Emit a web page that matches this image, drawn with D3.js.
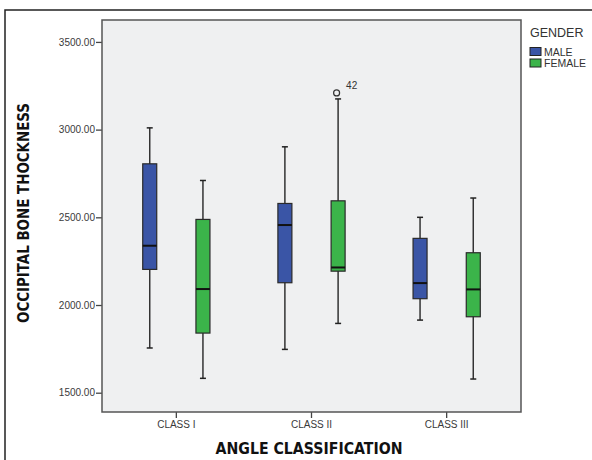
<!DOCTYPE html>
<html>
<head>
<meta charset="utf-8">
<script src="https://cdn.jsdelivr.net/npm/d3@7"></script>
<style>
  body { margin: 0; background: #fff; }
  svg { display: block; font-family: "Liberation Sans", Arial, sans-serif; }
  .axis-title { font-family: "DejaVu Sans Condensed", "DejaVu Sans", sans-serif; font-weight: bold; font-stretch: condensed; fill: #111; }
</style>
</head>
<body>
<div id="chart"></div>
<script>
// data
const classes = ["CLASS I", "CLASS II", "CLASS III"];
const genders = ["MALE", "FEMALE"];
const genderColors = ["#3a55a6", "#3bb44a"];
// [min, q1, median, q3, max] per class
const maleStats = [
    [1755, 2203, 2338, 2805, 3010],
    [1747, 2127, 2456, 2579, 2902],
    [1914, 2036, 2125, 2380, 2500]
];
const femaleStats = [
    [1582, 1840, 2091, 2488, 2710],
    [1895, 2193, 2214, 2594, 3175],
    [1578, 1933, 2089, 2298, 2610]
];
// outliers: [class, gender, value, case id]
const outliers = [["CLASS II", "FEMALE", 3209, "42"]];
const yTicks = [1500, 2000, 2500, 3000, 3500];

const width = 592, height = 460;
const plot = {left: 102, right: 521, top: 20, bottom: 412};

const svg = d3.select("#chart").append("svg")
    .attr("width", width)
    .attr("height", height);

// outer frame
svg.append("rect")
    .attr("x", 5).attr("y", 10)
    .attr("width", 620).attr("height", 520)
    .attr("fill", "none")
    .attr("stroke", "#222")
    .attr("stroke-width", 1.5);

// scales
const y = d3.scaleLinear()
    .domain([1390, 3625])
    .range([plot.bottom, plot.top]);

const x = d3.scaleBand()
    .domain(classes)
    .range([plot.left, plot.right])
    .paddingInner(0)
    .paddingOuter(0.05);

const xSub = d3.scalePoint()
    .domain(genders)
    .range([0, x.bandwidth()])
    .padding(0.77);

const color = d3.scaleOrdinal().domain(genders).range(genderColors);

// plot background
svg.append("rect")
    .attr("x", plot.left).attr("y", plot.top)
    .attr("width", plot.right - plot.left)
    .attr("height", plot.bottom - plot.top)
    .attr("fill", "#eff0f1");

// axes
const yAxis = svg.append("g")
    .attr("transform", `translate(${plot.left},0)`)
    .call(d3.axisLeft(y).tickValues(yTicks).tickFormat(d3.format(".2f")).tickSize(6).tickPadding(1));
yAxis.select(".domain").remove();
yAxis.selectAll("line").attr("stroke", "#444").attr("stroke-width", 1.3);
yAxis.selectAll("text").attr("font-size", 10).attr("fill", "#3a3a3a").attr("font-family", "Liberation Sans, Arial, sans-serif");

const xAxis = svg.append("g")
    .attr("transform", `translate(0,${plot.bottom})`)
    .call(d3.axisBottom(x).tickSize(6).tickPadding(3));
xAxis.select(".domain").remove();
xAxis.selectAll("line").attr("stroke", "#444").attr("stroke-width", 1.3);
xAxis.selectAll("text").attr("font-size", 10).attr("fill", "#3a3a3a").attr("font-family", "Liberation Sans, Arial, sans-serif");

// plot frame
svg.append("rect")
    .attr("x", plot.left).attr("y", plot.top)
    .attr("width", plot.right - plot.left)
    .attr("height", plot.bottom - plot.top)
    .attr("fill", "none")
    .attr("stroke", "#555")
    .attr("stroke-width", 1.5);

// box data
const boxes = [];
classes.forEach((c, i) => {
    [maleStats, femaleStats].forEach((stats, g) => {
        const s = stats[i];
        boxes.push({cls: c, gender: genders[g], min: s[0], q1: s[1], med: s[2], q3: s[3], max: s[4]});
    });
});

const boxW = 14, capW = 6;
const cx = d => x(d.cls) + xSub(d.gender);

const g = svg.append("g").selectAll("g")
    .data(boxes)
    .enter()
    .append("g");

// whiskers
g.append("line")
    .attr("x1", cx).attr("x2", cx)
    .attr("y1", d => y(d.max)).attr("y2", d => y(d.min))
    .attr("stroke", "#333").attr("stroke-width", 1.5);

g.selectAll(".cap")
    .data(d => [d.min, d.max].map(v => ({v, cx: cx(d)})))
    .enter()
    .append("line")
    .attr("class", "cap")
    .attr("x1", d => d.cx - capW / 2).attr("x2", d => d.cx + capW / 2)
    .attr("y1", d => y(d.v)).attr("y2", d => y(d.v))
    .attr("stroke", "#222").attr("stroke-width", 1.5);

// boxes
g.append("rect")
    .attr("x", d => cx(d) - boxW / 2)
    .attr("y", d => y(d.q3))
    .attr("width", boxW)
    .attr("height", d => y(d.q1) - y(d.q3))
    .attr("fill", d => color(d.gender))
    .attr("stroke", "#2a2a2a")
    .attr("stroke-width", 1.2);

// medians
g.append("line")
    .attr("x1", d => cx(d) - boxW / 2).attr("x2", d => cx(d) + boxW / 2)
    .attr("y1", d => y(d.med)).attr("y2", d => y(d.med))
    .attr("stroke", "#111").attr("stroke-width", 2);

// outliers
const out = svg.append("g").selectAll("g")
    .data(outliers)
    .enter()
    .append("g");

out.append("circle")
    .attr("cx", d => x(d[0]) + xSub(d[1]) - 1.5)
    .attr("cy", d => y(d[2]))
    .attr("r", 3)
    .attr("fill", "none")
    .attr("stroke", "#333")
    .attr("stroke-width", 1.2);

out.append("text")
    .attr("x", d => x(d[0]) + xSub(d[1]) + 8)
    .attr("y", d => y(d[2]) - 4)
    .attr("font-size", 10)
    .attr("fill", "#333")
    .text(d => d[3]);

// axis titles
svg.append("text")
    .attr("class", "axis-title")
    .attr("x", 309)
    .attr("y", 454)
    .attr("text-anchor", "middle")
    .attr("font-size", 15.5)
    .attr("textLength", 187)
    .attr("lengthAdjust", "spacingAndGlyphs")
    .text("ANGLE CLASSIFICATION");

svg.append("text")
    .attr("class", "axis-title")
    .attr("transform", "translate(29,213) rotate(-90)")
    .attr("text-anchor", "middle")
    .attr("font-size", 15)
    .attr("textLength", 220)
    .attr("lengthAdjust", "spacingAndGlyphs")
    .text("OCCIPITAL BONE THOCKNESS");

// legend
const legend = svg.append("g").attr("transform", "translate(530,0)");
legend.append("text")
    .attr("x", 0).attr("y", 37)
    .attr("font-size", 12.5)
    .attr("fill", "#333")
    .text("GENDER");

const items = legend.selectAll(".item")
    .data(genders)
    .enter()
    .append("g")
    .attr("class", "item")
    .attr("transform", (d, i) => `translate(0,${47.5 + i * 11.5})`);

items.append("rect")
    .attr("width", 11).attr("height", 8)
    .attr("fill", d => color(d))
    .attr("stroke", "#222").attr("stroke-width", 1);

items.append("text")
    .attr("x", 14).attr("y", 8)
    .attr("font-size", 10.5)
    .attr("fill", "#333")
    .text(d => d);
</script>
</body>
</html>
